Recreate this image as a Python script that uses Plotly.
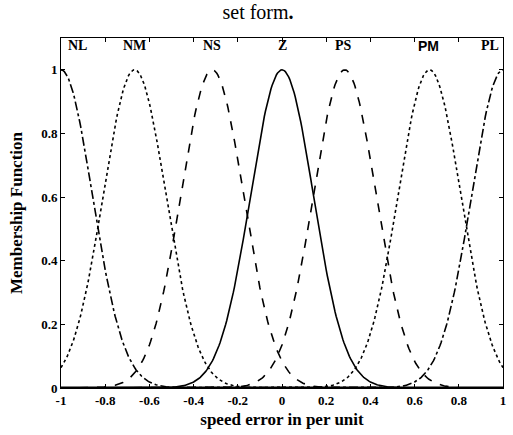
import numpy as np
import plotly.graph_objects as go

# Gaussian membership functions for the speed error (per unit)
set_names = ["NL", "NM", "NS", "Z", "PS", "PM", "PL"]
set_centers = [-1.0, -0.667, -0.316, 0.0, 0.284, 0.667, 1.0]
set_sigma = [0.142, 0.142, 0.142, 0.142, 0.142, 0.142, 0.142]
line_dashes = ["dashdot", "dot", "dash", "solid", "dash", "dot", "dashdot"]

# label positions above each set
label_x = [-0.924, -0.667, -0.317, 0.0, 0.28, 0.663, 0.94]
label_y = 1.075
label_fonts = ["Liberation Serif"] * 5 + ["Liberation Sans"] + ["Liberation Serif"]

x_ticks = [-1, -0.8, -0.6, -0.4, -0.2, 0, 0.2, 0.4, 0.6, 0.8, 1]
x_tick_text = ["-1", "-0.8", "-0.6", "-0.4", "-0.2", "0", "0.2", "0.4", "0.6", "0.8", "1"]
y_ticks = [0, 0.2, 0.4, 0.6, 0.8, 1]
y_tick_text = ["0", "0.2", "0.4", "0.6", "0.8", "1"]

x = np.linspace(-1, 1, 401)

fig = go.Figure()
for name, c, s, d in zip(set_names, set_centers, set_sigma, line_dashes):
    mu = np.exp(-((x - c) ** 2) / (2 * s ** 2))
    fig.add_trace(go.Scatter(
        x=x, y=mu, mode="lines", name=name,
        line=dict(color="black", width=1.6, dash=d),
        showlegend=False, hoverinfo="skip",
    ))

for name, lx, fam in zip(set_names, label_x, label_fonts):
    fig.add_annotation(
        x=lx, y=label_y, text=f"<b>{name}</b>", showarrow=False,
        font=dict(family=fam, size=14, color="black"),
        xanchor="center", yanchor="middle",
    )

# heavy baseline where the curve tails pile up along zero
fig.add_shape(type="line", xref="paper", yref="y", x0=0, x1=1, y0=0, y1=0,
              line=dict(color="black", width=3))

fig.update_layout(
    width=513, height=435,
    margin=dict(l=61, r=7, t=38, b=47),
    paper_bgcolor="white", plot_bgcolor="white",
    title=dict(
        text="set form<b>.</b>", x=0.503, xanchor="center", y=0.972, yanchor="middle",
        font=dict(family="Liberation Serif", size=20, color="black"),
    ),
    font=dict(family="Liberation Serif", color="black"),
)

fig.update_xaxes(
    range=[-1, 1], tickvals=x_ticks, ticktext=[f"<b>{t}</b>" for t in x_tick_text],
    tickfont=dict(family="Liberation Serif", size=13, color="black"),
    ticks="inside", ticklen=4, tickcolor="black",
    showline=True, linecolor="black", linewidth=1, mirror="ticks",
    showgrid=False, zeroline=False,
    title=dict(text="<b>speed error in per unit</b>", standoff=6,
               font=dict(family="Liberation Serif", size=17, color="black")),
)
fig.update_yaxes(
    range=[0, 1.1], tickvals=y_ticks, ticktext=[f"<b>{t}</b>" for t in y_tick_text],
    tickfont=dict(family="Liberation Serif", size=13, color="black"),
    ticks="inside", ticklen=4, tickcolor="black",
    showline=True, linecolor="black", linewidth=1, mirror="ticks",
    showgrid=False, zeroline=False,
    title=dict(text="<b>Membership Function</b>", standoff=14,
               font=dict(family="Liberation Serif", size=17, color="black")),
)

fig.write_html("out.html")
